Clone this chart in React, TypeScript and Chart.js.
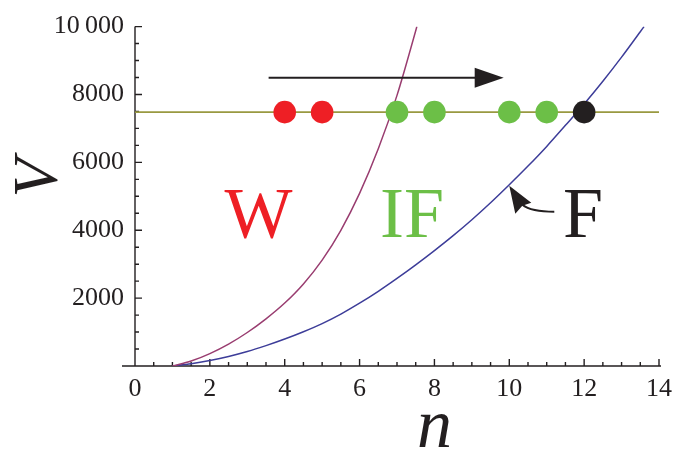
import React, { useEffect, useRef } from 'react';
import { Chart, registerables } from 'chart.js';
Chart.register(...registerables);

// ---- data ----
const purpleN = [1, 1.5, 2, 2.5, 3, 3.5, 4, 4.5, 5, 5.5, 6, 6.5, 7, 7.5, 7.53];
const purpleV = [0, 145, 365, 645, 987, 1390, 1855, 2418, 3120, 3998, 5085, 6398, 7973, 9880, 10000];

const blueN = [1, 1.5, 2, 2.5, 3, 3.5, 4, 4.5, 5, 5.5, 6, 6.5, 7, 7.5, 8, 8.5, 9, 9.5, 10, 10.5, 11, 11.5, 12, 12.5, 13, 13.5, 13.6];
const blueV = [0, 65, 160, 280, 425, 600, 795, 1010, 1250, 1530, 1850, 2200, 2580, 2980, 3400, 3840, 4310, 4810, 5340, 5890, 6470, 7090, 7720, 8390, 9100, 9850, 10000];

const levelN = [0, 14];
const levelV = [7480, 7480];

const dotN = [4, 5, 7, 8, 10, 11, 12];
const dotV = [7480, 7480, 7480, 7480, 7480, 7480, 7480];
const RED = '#ee1f25';
const GREEN = '#6cbf47';
const INK = '#231f20';
const dotColors = [RED, RED, GREEN, GREEN, GREEN, GREEN, INK];

const xTicks = [0, 2, 4, 6, 8, 10, 12, 14];
const yTicks = [2000, 4000, 6000, 8000, 10000];
const xMinorStep = 0.5;
const yMinorStep = 500;

// annotations (data coordinates)
const regionLabels = [
  { text: 'W', n: 3.3, v: 3810, color: RED },
  { text: 'IF', n: 7.4, v: 3810, color: GREEN },
  { text: 'F', n: 11.97, v: 3810, color: INK },
];
const sweepArrow = { fromN: 3.57, toN: 9.85, v: 8490 };
const pointerTip = { n: 10.0, v: 5310 };

const FONT = "'Liberation Serif', 'Times New Roman', serif";

const decor = {
  id: 'decor',
  beforeDatasetsDraw(chart: any) {
    const { ctx } = chart;
    const x = chart.scales.x;
    const y = chart.scales.y;
    const x0 = x.getPixelForValue(0);
    const x1 = x.getPixelForValue(14);
    const y0 = y.getPixelForValue(0);
    const y1 = y.getPixelForValue(10000);
    ctx.save();
    ctx.strokeStyle = INK;
    ctx.lineWidth = 1.4;
    ctx.beginPath();
    ctx.moveTo(x0 - 13, y0);
    ctx.lineTo(x1 + 2, y0);
    ctx.moveTo(x0, y0);
    ctx.lineTo(x0, y1);
    for (let v = 0; v <= 14.0001; v += xMinorStep) {
      const px = x.getPixelForValue(v);
      const major = xTicks.some((t) => Math.abs(t - v) < 1e-6);
      ctx.moveTo(px, y0);
      ctx.lineTo(px, y0 - (major ? 7 : 4));
    }
    for (let v = yMinorStep; v <= 10000.01; v += yMinorStep) {
      const py = y.getPixelForValue(v);
      const major = yTicks.some((t) => Math.abs(t - v) < 1e-6);
      ctx.moveTo(x0, py);
      ctx.lineTo(x0 + (major ? 7 : 4), py);
    }
    ctx.stroke();
    ctx.restore();
  },
  afterDatasetsDraw(chart: any) {
    const { ctx } = chart;
    const x = chart.scales.x;
    const y = chart.scales.y;
    ctx.save();
    // sweep arrow
    const ay = y.getPixelForValue(sweepArrow.v);
    const ax0 = x.getPixelForValue(sweepArrow.fromN);
    const ax1 = x.getPixelForValue(sweepArrow.toN);
    ctx.strokeStyle = INK;
    ctx.fillStyle = INK;
    ctx.lineWidth = 2;
    ctx.beginPath();
    ctx.moveTo(ax0, ay);
    ctx.lineTo(ax1 - 20, ay);
    ctx.stroke();
    ctx.beginPath();
    ctx.moveTo(ax1, ay);
    ctx.lineTo(ax1 - 29, ay - 10);
    ctx.lineTo(ax1 - 29, ay + 10);
    ctx.closePath();
    ctx.fill();

    // region labels
    ctx.font = `72px ${FONT}`;
    ctx.textAlign = 'center';
    ctx.textBaseline = 'alphabetic';
    for (const l of regionLabels) {
      ctx.fillStyle = l.color;
      ctx.fillText(l.text, x.getPixelForValue(l.n), y.getPixelForValue(l.v));
    }

    // pointer arrow from F to blue curve
    const tx = x.getPixelForValue(pointerTip.n);
    const ty = y.getPixelForValue(pointerTip.v);
    ctx.fillStyle = INK;
    ctx.strokeStyle = INK;
    ctx.lineWidth = 2;
    ctx.beginPath();
    ctx.moveTo(tx + 13, ty + 19);
    ctx.quadraticCurveTo(tx + 22, ty + 26, tx + 45, ty + 26);
    ctx.stroke();
    ctx.beginPath();
    ctx.moveTo(tx, ty);
    ctx.lineTo(tx + 6, ty + 28);
    ctx.lineTo(tx + 13, ty + 20);
    ctx.lineTo(tx + 22, ty + 17);
    ctx.closePath();
    ctx.fill();

    // axis titles
    ctx.fillStyle = INK;
    ctx.font = `italic 70px ${FONT}`;
    ctx.textAlign = 'center';
    ctx.textBaseline = 'alphabetic';
    ctx.fillText('n', x.getPixelForValue(8), 447);
    ctx.save();
    ctx.translate(57, 178);
    ctx.rotate(-Math.PI / 2);
    ctx.font = `italic 64px ${FONT}`;
    ctx.fillText('V', 0, 0);
    ctx.restore();
    ctx.restore();
  },
};

export default function App() {
  const ref = useRef<HTMLCanvasElement | null>(null);
  useEffect(() => {
    if (!ref.current) return;
    const chart = new Chart(ref.current, {
      type: 'scatter',
      data: {
        datasets: [
          {
            label: 'states',
            data: dotN.map((n, i) => ({ x: n, y: dotV[i] })),
            pointRadius: 11.3,
            pointHoverRadius: 11.3,
            pointBackgroundColor: dotColors,
            pointBorderWidth: 0,
            showLine: false,
          },
          {
            label: 'level',
            data: levelN.map((n, i) => ({ x: n, y: levelV[i] })),
            showLine: true,
            borderColor: '#999940',
            borderWidth: 1.6,
            pointRadius: 0,
          },
          {
            label: 'W',
            data: purpleN.map((n, i) => ({ x: n, y: purpleV[i] })),
            showLine: true,
            borderColor: '#993d70',
            borderWidth: 1.5,
            pointRadius: 0,
            cubicInterpolationMode: 'monotone',
          },
          {
            label: 'F',
            data: blueN.map((n, i) => ({ x: n, y: blueV[i] })),
            showLine: true,
            borderColor: '#3d3d99',
            borderWidth: 1.5,
            pointRadius: 0,
            cubicInterpolationMode: 'monotone',
          },
        ],
      },
      options: {
        responsive: false,
        animation: false,
        layout: { padding: { left: 0, top: 16, right: 16, bottom: 0 } },
        plugins: { legend: { display: false }, tooltip: { enabled: false } },
        scales: {
          x: {
            type: 'linear',
            min: 0,
            max: 14,
            afterFit: (s: any) => { s.height = 91; },
            afterBuildTicks: (s: any) => { s.ticks = xTicks.map((v) => ({ value: v })); },
            ticks: { color: INK, font: { family: FONT, size: 26 }, padding: 8, maxRotation: 0 },
            grid: { display: false, drawTicks: false },
            border: { display: false },
          },
          y: {
            type: 'linear',
            min: 0,
            max: 10000,
            afterFit: (s: any) => { s.width = 135; },
            afterBuildTicks: (s: any) => { s.ticks = yTicks.map((v) => ({ value: v })); },
            ticks: {
              color: INK,
              font: { family: FONT, size: 26 },
              padding: 11,
              callback: (v: any) => (Number(v) >= 10000 ? '10\u2009000' : String(v)),
            },
            grid: { display: false, drawTicks: false },
            border: { display: false },
          },
        },
      },
      plugins: [decor],
    } as any);
    return () => chart.destroy();
  }, []);
  return (
    <div style={{ position: 'absolute', left: 0, top: 0, width: 680, height: 457 }}>
      <canvas ref={ref} width={680} height={457} />
    </div>
  );
}
